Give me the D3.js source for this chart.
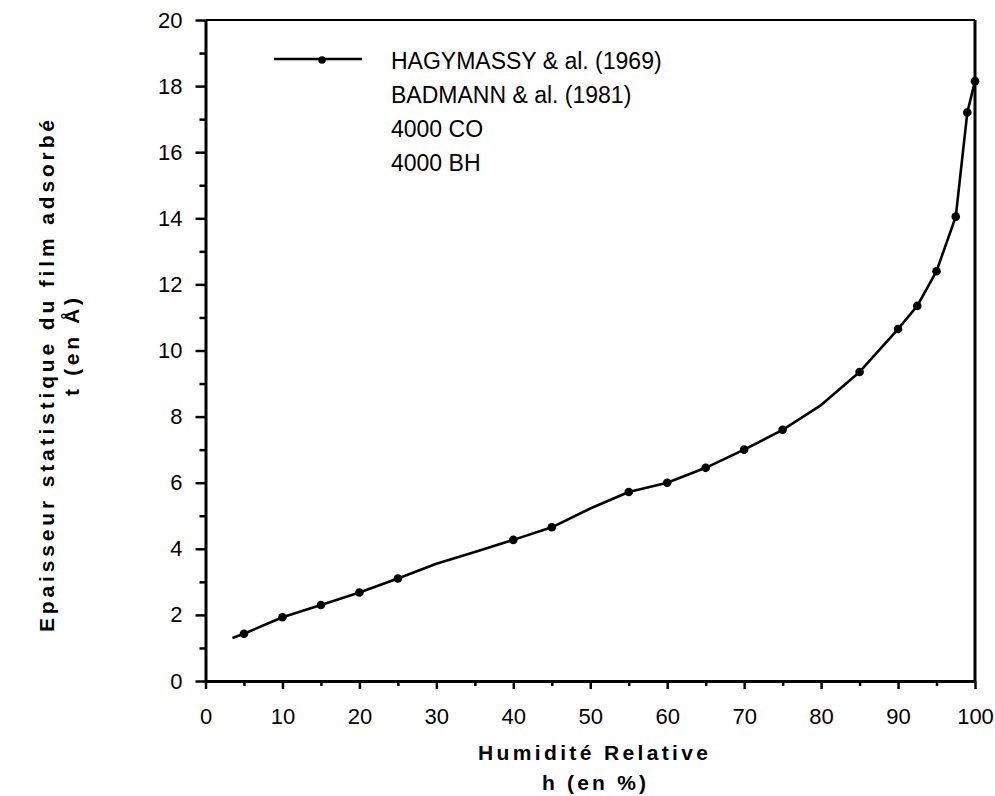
<!DOCTYPE html>
<html>
<head>
<meta charset="utf-8">
<script src="https://cdn.jsdelivr.net/npm/d3@7"></script>
<style>
  html, body { margin: 0; padding: 0; background: #fff; }
  svg { display: block; }
</style>
</head>
<body>
<svg id="chart" width="995" height="796"></svg>
<script>
// ---- data ----
const humidity = [3.5, 5, 10, 15, 20, 25, 30, 35, 40, 45, 50, 55, 60, 65, 70, 75, 80, 85, 90, 92.5, 95, 97.5, 99, 100];
const thickness = [1.3, 1.43, 1.93, 2.3, 2.68, 3.1, 3.55, 3.9, 4.27, 4.65, 5.22, 5.72, 6.0, 6.45, 7.0, 7.6, 8.35, 9.35, 10.65, 11.35, 12.4, 14.05, 17.2, 18.15];
const markerHumidity = [5, 10, 15, 20, 25, 40, 45, 55, 60, 65, 70, 75, 85, 90, 92.5, 95, 97.5, 99, 100];
const xMajorTicks = [0, 10, 20, 30, 40, 50, 60, 70, 80, 90, 100];
const xMinorTicks = [5, 15, 25, 35, 45, 55, 65, 75, 85, 95];
const yMajorTicks = [0, 2, 4, 6, 8, 10, 12, 14, 16, 18, 20];
const yMinorTicks = [1, 3, 5, 7, 9, 11, 13, 15, 17, 19];
const legendLabels = ["HAGYMASSY & al. (1969)", "BADMANN & al. (1981)", "4000 CO", "4000 BH"];
const xTitle = ["Humidité  Relative", "h  (en %)"];
const yTitle = ["Epaisseur  statistique  du  film  adsorbé", "t  (en Å)"];

const svg = d3.select("#chart");
const plotLeft = 205.5, plotRight = 975, plotTop = 20, plotBottom = 681;
const x = d3.scaleLinear().domain([0, 100]).range([plotLeft, plotRight]);
const y = d3.scaleLinear().domain([0, 20]).range([plotBottom, plotTop]);
const font = "'Liberation Sans', Arial, Helvetica, sans-serif";

// frame (top and right)
svg.append("line").attr("x1", plotLeft).attr("x2", plotRight).attr("y1", plotTop).attr("y2", plotTop)
  .attr("stroke", "#000").attr("stroke-width", 2);
svg.append("line").attr("x1", plotRight).attr("x2", plotRight).attr("y1", plotTop).attr("y2", plotBottom)
  .attr("stroke", "#000").attr("stroke-width", 3);

// x axis
svg.append("g").attr("transform", `translate(0,${plotBottom})`)
  .call(d3.axisBottom(x).tickValues(xMajorTicks).tickSize(8).tickPadding(19).tickSizeOuter(0));
svg.append("g").attr("transform", `translate(0,${plotBottom})`)
  .call(d3.axisBottom(x).tickValues(xMinorTicks).tickSize(5).tickFormat("").tickSizeOuter(0))
  .select(".domain").remove();
// y axis
svg.append("g").attr("transform", `translate(${plotLeft},0)`)
  .call(d3.axisLeft(y).tickValues(yMajorTicks).tickSize(10).tickPadding(13).tickSizeOuter(0));
svg.append("g").attr("transform", `translate(${plotLeft},0)`)
  .call(d3.axisLeft(y).tickValues(yMinorTicks).tickSize(6).tickFormat("").tickSizeOuter(0))
  .select(".domain").remove();

svg.selectAll(".domain").attr("stroke", "#000").attr("stroke-width", 3);
svg.selectAll(".tick line").attr("stroke", "#000").attr("stroke-width", 2.5);
svg.selectAll(".tick text").attr("font-family", font).attr("font-size", 22).attr("fill", "#000");

// curve
const pts = humidity.map((h, i) => [h, thickness[i]]);
svg.append("path").datum(pts)
  .attr("fill", "none").attr("stroke", "#000").attr("stroke-width", 2.6)
  .attr("stroke-linejoin", "round")
  .attr("d", d3.line().x(d => x(d[0])).y(d => y(d[1])));
const markers = pts.filter(d => markerHumidity.includes(d[0]));
svg.selectAll("circle.pt").data(markers).enter().append("circle")
  .attr("class", "pt").attr("cx", d => x(d[0])).attr("cy", d => y(d[1])).attr("r", 4.3)
  .attr("fill", "#000");

// legend
const lg = svg.append("g");
lg.append("line").attr("x1", 274).attr("x2", 362).attr("y1", 59).attr("y2", 59)
  .attr("stroke", "#000").attr("stroke-width", 2.6);
lg.append("circle").attr("cx", 322).attr("cy", 60).attr("r", 3.8).attr("fill", "#000");
lg.selectAll("text").data(legendLabels).enter().append("text")
  .attr("x", 391).attr("y", (d, i) => 69 + i * 34)
  .attr("font-family", font).attr("font-size", 23).attr("fill", "#000")
  .text(d => d);

// axis titles
svg.append("text").attr("x", 593).attr("y", 760).attr("text-anchor", "middle")
  .attr("font-family", font).attr("font-size", 21).attr("font-weight", "bold")
  .attr("textLength", 230).attr("lengthAdjust", "spacing").text(xTitle[0]);
svg.append("text").attr("x", 594).attr("y", 790).attr("text-anchor", "middle")
  .attr("font-family", font).attr("font-size", 21).attr("font-weight", "bold")
  .attr("textLength", 104).attr("lengthAdjust", "spacing").text(xTitle[1]);

svg.append("text").attr("transform", "translate(54,376) rotate(-90)").attr("text-anchor", "middle")
  .attr("font-family", font).attr("font-size", 21).attr("font-weight", "bold")
  .attr("textLength", 512).attr("lengthAdjust", "spacing").text(yTitle[0]);
svg.append("text").attr("transform", "translate(79,347) rotate(-90)").attr("text-anchor", "middle")
  .attr("font-family", font).attr("font-size", 21).attr("font-weight", "bold")
  .attr("textLength", 98).attr("lengthAdjust", "spacing").text(yTitle[1]);
</script>
</body>
</html>
